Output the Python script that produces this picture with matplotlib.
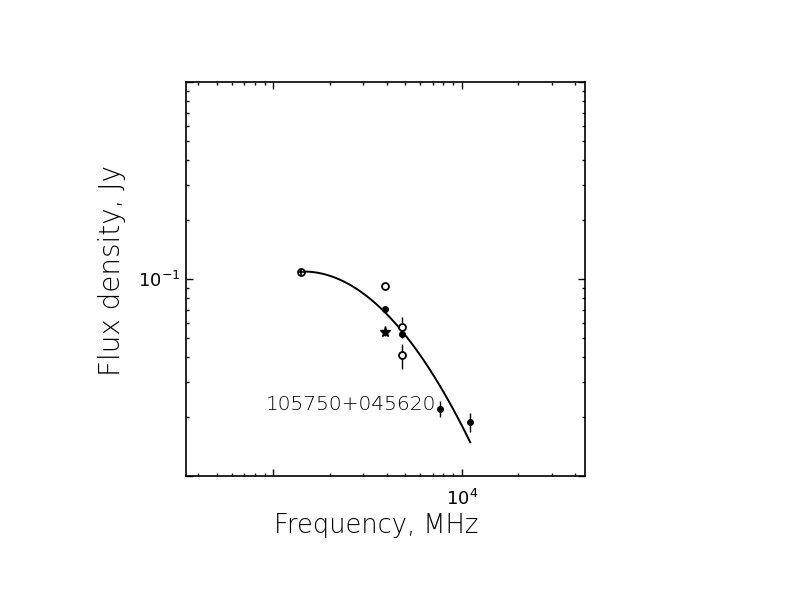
import numpy as np
import matplotlib
matplotlib.use('Agg')
import matplotlib.pyplot as plt
from matplotlib.ticker import FixedLocator, FixedFormatter, LogLocator, NullFormatter

# Measured points, frequency in MHz, flux in Jy
open_freq = [3900, 4850, 4850]
open_flux = [0.092, 0.057, 0.041]
open_err = [0.0, 0.007, 0.006]

filled_freq = [3900, 4850, 7700, 11100]
filled_flux = [0.0703, 0.0527, 0.022, 0.0188]
filled_err = [0.0, 0.0, 0.002, 0.002]

star_freq = [3900]
star_flux = [0.0536]
star_err = [0.002]

ref_freq = [1400]
ref_flux = [0.108]

# fitted parabola in log-log: logS = a - k*(log(nu/1000) - u0)^2
fit_a, fit_k, fit_u0 = -0.962, 1.106, 0.16
fit_range = (1400, 11100)

source_name = '105750+045620'

fig = plt.figure(figsize=(7.92, 6.12), dpi=100)
ax = fig.add_axes([186 / 792, 1 - 476 / 612, 399 / 792, 394 / 612])
ax.set_xscale('log')
ax.set_yscale('log')
ax.set_xlim(10 ** 2.5366, 10 ** 4.6545)
ax.set_ylim(0.01, 1.0)

# fit curve
nu = np.logspace(np.log10(fit_range[0]), np.log10(fit_range[1]), 200)
u = np.log10(nu) - 3
ax.plot(nu, 10 ** (fit_a - fit_k * (u - fit_u0) ** 2), color='black', lw=1.4, zorder=2)

# data
ax.errorbar(open_freq, open_flux, yerr=open_err, fmt='o', ms=5, mfc='white', mec='black',
            mew=1.3, ecolor='black', elinewidth=1, capsize=0, zorder=3)
ax.errorbar(filled_freq, filled_flux, yerr=filled_err, fmt='o', ms=4, mfc='black', mec='black',
            ecolor='black', elinewidth=1, capsize=0, zorder=3)
ax.errorbar(star_freq, star_flux, yerr=star_err, fmt='*', ms=8, mfc='black', mec='black',
            ecolor='black', elinewidth=1, capsize=0, zorder=3)
ax.plot(ref_freq, ref_flux, 'o', ms=5, mfc='white', mec='black', mew=1.3, zorder=3)
ax.plot(ref_freq, ref_flux, '+', ms=5, color='black', mew=1.2, zorder=4)

ax.text((266 - 186) / 399, (476 - 404) / 394, source_name, transform=ax.transAxes,
        ha='left', va='center', fontsize=14.6, fontweight='light', color='black')

# ticks
ax.xaxis.set_major_locator(FixedLocator([1e3, 1e4]))
ax.xaxis.set_major_formatter(FixedFormatter(['', r'$10^{4}$']))
ax.xaxis.set_minor_locator(LogLocator(base=10, subs=np.arange(2, 10)))
ax.xaxis.set_minor_formatter(NullFormatter())
ax.yaxis.set_major_locator(FixedLocator([1e-2, 1e-1, 1.0]))
ax.yaxis.set_major_formatter(FixedFormatter(['', r'$10^{-1}$', '']))
ax.yaxis.set_minor_locator(LogLocator(base=10, subs=np.arange(2, 10)))
ax.yaxis.set_minor_formatter(NullFormatter())
ax.tick_params(which='both', direction='in', top=True, right=True, width=1, labelsize=13)
ax.tick_params(which='major', length=5)
ax.tick_params(which='minor', length=2.5)
ax.tick_params(axis='x', pad=9)
ax.tick_params(axis='y', pad=4)
for s in ax.spines.values():
    s.set_linewidth(1.2)

fig.text(376 / 792, 1 - 526 / 612, 'Frequency, MHz', ha='center', va='center',
         fontsize=18.5, fontweight='light', color='black')
fig.text(112 / 792, 1 - 271 / 612, 'Flux density, Jy', ha='center', va='center',
         rotation=90, fontsize=20, fontweight='light', color='black')

fig.savefig('out.png', dpi=100)
